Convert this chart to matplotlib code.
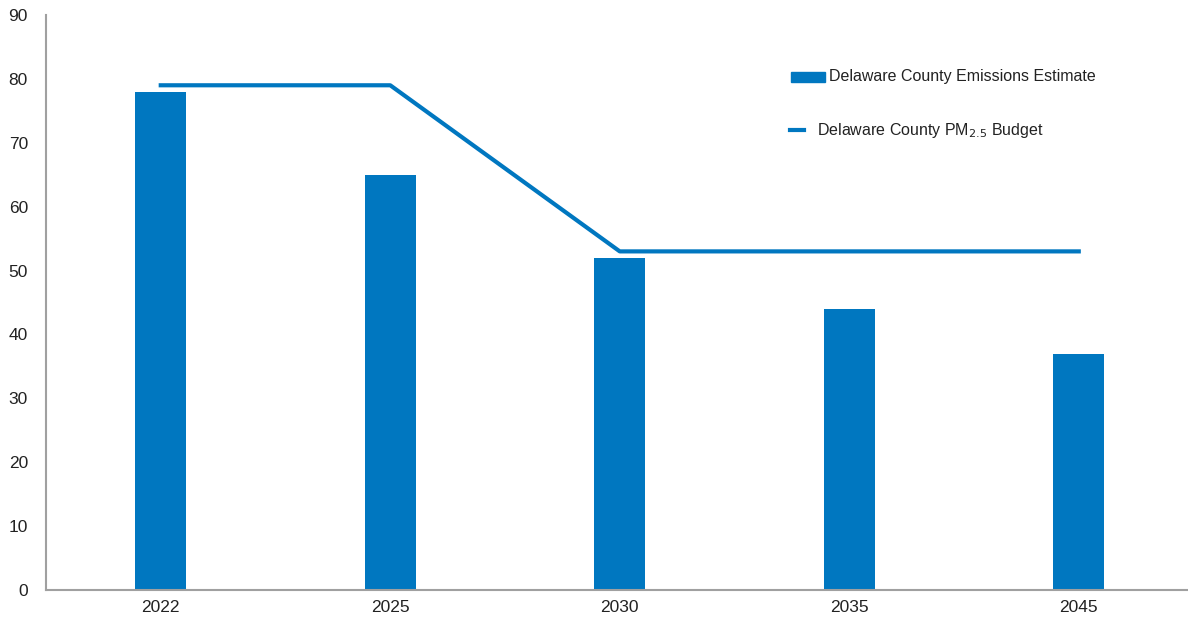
import matplotlib
matplotlib.use("Agg")
import matplotlib.pyplot as plt
from matplotlib.lines import Line2D
from matplotlib.patches import Rectangle

# 数据
years = ["2022", "2025", "2030", "2035", "2045"]
emissions = [78, 65, 52, 44, 37]
budget = [79, 79, 53, 53, 53]
labels = ["Delaware County Emissions Estimate", "Delaware County PM$_{2.5}$ Budget"]

blue = "#0077C0"
plt.rcParams['font.family'] = ['Liberation Sans', 'DejaVu Sans']

W, H = 1188, 624
fig = plt.figure(figsize=(W / 100, H / 100), dpi=100)
ax = fig.add_axes([46 / W, 34 / H, 1147.5 / W, 575 / H])

x = range(len(years))
ax.bar(x, emissions, width=0.222, color=blue, zorder=2)
ax.plot(x, budget, color=blue, linewidth=3, zorder=3)

ax.set_xlim(-0.5, 4.5)
ax.set_ylim(0, 90)
ax.set_yticks(range(0, 91, 10))
ax.set_xticks(list(x))
ax.set_xticklabels(years)
ax.tick_params(length=0, labelsize=12.5, colors="#222222", pad=7)
ax.tick_params(axis="y", pad=13)

for s in ["top", "right"]:
    ax.spines[s].set_visible(False)
for s in ["left", "bottom"]:
    ax.spines[s].set_color("#A0A0A0")
    ax.spines[s].set_linewidth(1.5)

# 手动画图例 (像素坐标, 从上往下)
fig.add_artist(Rectangle((791 / W, 1 - 82 / H), 34 / W, 10 / H,
                         color=blue, transform=fig.transFigure))
fig.text(829 / W, 1 - 77 / H, labels[0], fontsize=11.5, va="center",
         color="#222222")
fig.add_artist(Line2D([790 / W, 804 / W], [1 - 130 / H, 1 - 130 / H],
                      color=blue, linewidth=3, transform=fig.transFigure))
fig.text(817 / W, 1 - 130 / H, labels[1], fontsize=11.5, va="center",
         color="#222222")

fig.savefig("out.png", dpi=100)
